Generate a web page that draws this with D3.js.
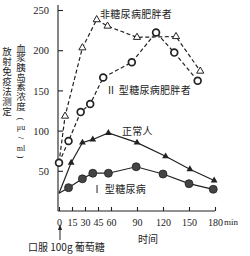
<!DOCTYPE html>
<html><head><meta charset="utf-8">
<script src="https://cdn.jsdelivr.net/npm/d3@7"></script>
<style>body{margin:0;background:#fff}svg{display:block}</style>
</head><body>
<script>
// ---- data (minutes, μu/ml) ----
const xTicks = [0, 15, 30, 45, 60, 90, 120, 150, 180];
const yTicks = [50, 100, 150, 200, 250];

// 非糖尿病肥胖者 (open triangles, dashed)
const obeseT = [0, 7, 27, 43.5, 56, 90, 135, 163];
const obeseV = [60, 118, 203, 238, 230, 216, 217, 174];
// Ⅱ型糖尿病肥胖者 (open circles, dashed)
const t2T = [0, 11, 25, 36, 51, 84, 112, 133, 160];
const t2V = [60, 87, 123, 133, 166, 185, 222, 197, 162];
// 正常人 (filled triangles, solid)
const normT = [0, 14, 27, 39, 57, 90, 123, 151, 179];
const normV = [22, 60, 85, 89, 97, 85, 68, 52, 38];
// Ⅰ型糖尿病 (filled circles, solid)
const t1T = [0, 11, 27, 39, 57, 89, 120, 150, 178];
const t1V = [22, 29, 40, 47, 47, 55, 46, 34, 27];

const seriesNames = ["非糖尿病肥胖者", "Ⅱ 型糖尿病肥胖者", "正常人", "Ⅰ 型糖尿病"];
const yTitle1 = "放射免疫法测定";
const yTitle2 = "血浆胰岛素浓度";
const xTitle = "时间";
const xUnit = "min";
const note = "口服 100g 葡萄糖";

const W = 250, H = 256;
const ink = "#222";
const serif = "'Liberation Serif','DejaVu Serif',serif";
const cjk = "'Noto Sans CJK SC','Noto Sans CJK JP',sans-serif";

const svg = d3.select("body").append("svg").attr("width", W).attr("height", H);

const x = d3.scaleLinear().domain([0, 180]).range([59, 215]);
const y = d3.scaleLinear().domain([0, 250]).range([211, 10]);

// axes
const yAxis = d3.axisLeft(y).tickValues(yTicks).tickSize(-5).tickPadding(9);
const gy = svg.append("g").attr("transform", `translate(${x(0) - 1},0)`).call(yAxis);
gy.select(".domain").attr("d", `M0,5V${y(0)}`);
const xAxis = d3.axisBottom(x).tickValues(xTicks).tickSize(-4).tickPadding(8);
const gx = svg.append("g").attr("transform", `translate(0,${y(0)})`).call(xAxis);
gx.select(".domain").attr("d", `M${x(0) - 1},0H${x(180)}`);
[gy, gx].forEach(g => {
  g.selectAll("path,line").attr("stroke", ink).attr("stroke-width", 1.1);
  g.selectAll("text").attr("fill", ink).style("font-family", serif).style("font-size", "10.5px");
});
gx.selectAll("text").style("font-size", "10px");
gy.selectAll(".tick text").attr("dy", "0.35em");

// lines
const mk = (T, V) => T.map((t, i) => [t, V[i]]);
const line = d3.line().x(d => x(d[0])).y(d => y(d[1]));
const series = [
  {d: mk(obeseT, obeseV), dash: "4,2.5", sym: "otri"},
  {d: mk(t2T, t2V), dash: "4,2.5", sym: "ocirc"},
  {d: mk(normT, normV), dash: null, sym: "ftri"},
  {d: mk(t1T, t1V), dash: null, sym: "fcirc"}
];
series.forEach(s => {
  svg.append("path").attr("d", line(s.d)).attr("fill", "none")
    .attr("stroke", ink).attr("stroke-width", 1.2)
    .attr("stroke-dasharray", s.dash);
});
// markers (first point is the shared start, drawn only for open circles)
series.forEach(s => {
  const pts = s.sym === "ocirc" ? s.d : s.d.slice(1);
  const g = svg.append("g");
  pts.forEach(p => {
    const cx = x(p[0]), cy = y(p[1]);
    if (s.sym === "ocirc") {
      g.append("circle").attr("cx", cx).attr("cy", cy).attr("r", 3.4)
        .attr("fill", "#fff").attr("stroke", ink).attr("stroke-width", 1.7);
    } else if (s.sym === "fcirc") {
      g.append("circle").attr("cx", cx).attr("cy", cy).attr("r", 4)
        .attr("fill", "#444").attr("stroke", ink).attr("stroke-width", 0.8);
    } else if (s.sym === "otri") {
      g.append("path").attr("d", d3.symbol(d3.symbolTriangle, 22)())
        .attr("transform", `translate(${cx},${cy})`)
        .attr("fill", "#fff").attr("stroke", ink).attr("stroke-width", 1);
    } else {
      g.append("path").attr("d", d3.symbol(d3.symbolTriangle, 20)())
        .attr("transform", `translate(${cx},${cy})`)
        .attr("fill", ink);
    }
  });
});

// series labels
const labelPos = [[100, 13], [106, 89], [122, 130], [92, 188]];
seriesNames.forEach((n, i) => {
  svg.append("text").attr("x", labelPos[i][0]).attr("y", labelPos[i][1])
    .attr("dominant-baseline", "central").attr("fill", ink)
    .style("font-family", cjk).style("font-size", "10px").style("letter-spacing", "0.3px")
    .text(n);
});

// y title (vertical columns)
const vt = (str, cx, y0, ls) => svg.append("text").attr("x", cx).attr("y", y0)
  .style("writing-mode", "vertical-rl").attr("fill", ink)
  .style("font-family", cjk).style("font-size", "9.5px").style("letter-spacing", ls + "px")
  .text(str);
vt(yTitle1, 7, 47, 0.5);
vt(yTitle2, 21, 43.2, 0.2);
const unitParts = [["(", 119, true, 9], ["μu", 127, false, 8], ["/", 138, true, 9], ["ml", 148, false, 8], [")", 157, true, 9]];
unitParts.forEach(u => {
  svg.append("text").attr("x", 0).attr("y", 0)
    .attr("transform", `translate(21,${u[1]})` + (u[2] ? " rotate(90)" : ""))
    .attr("text-anchor", "middle").attr("dominant-baseline", "central")
    .attr("fill", ink).style("font-family", serif).style("font-size", u[3] + "px").text(u[0]);
});

// x unit, title, note with arrow
svg.append("text").attr("x", 224).attr("y", 222).attr("dominant-baseline", "central")
  .attr("fill", ink).style("font-family", serif).style("font-size", "9px").text(xUnit);
svg.append("text").attr("x", 148).attr("y", 238).attr("text-anchor", "middle")
  .attr("dominant-baseline", "central").attr("fill", ink)
  .style("font-family", cjk).style("font-size", "10px").text(xTitle);
svg.append("text").attr("x", 28).attr("y", 246).attr("dominant-baseline", "central")
  .attr("fill", ink).style("font-family", cjk).style("font-size", "10px").text(note);
svg.append("line").attr("x1", x(0) + 1).attr("x2", x(0) + 1).attr("y1", 228).attr("y2", 240)
  .attr("stroke", ink).attr("stroke-width", 1);
svg.append("path").attr("d", `M${x(0) + 1},224l-2,6h4z`).attr("fill", ink);
</script>
</body></html>
